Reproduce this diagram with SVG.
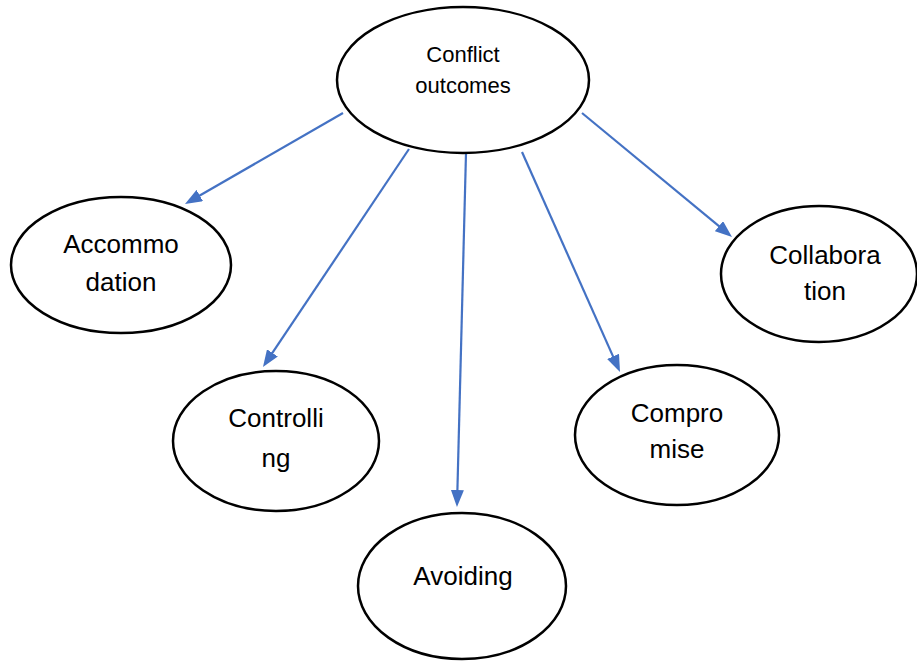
<svg xmlns="http://www.w3.org/2000/svg" width="917" height="661" viewBox="0 0 917 661">
<style>
.node ellipse{fill:#fff;stroke:#000;stroke-width:2.5}
.node text{font-family:"Liberation Sans",Arial,sans-serif;font-size:26px;fill:#000;text-anchor:middle}
#n0 text{font-size:22px}
.edges line{stroke:#4472C4;stroke-width:2.2;fill:none}
</style>
<defs>
<marker id="ah" markerUnits="userSpaceOnUse" markerWidth="17" markerHeight="13" refX="4" refY="6.5" orient="auto">
<path d="M0,0 L17,6.5 L0,13 z" fill="#4472C4"/>
</marker>
</defs>
<rect width="917" height="661" fill="#fff"/>
<g class="edges">
<line x1="343" y1="113" x2="196.3" y2="197.5" marker-end="url(#ah)"/>
<line x1="409" y1="149" x2="270.2" y2="356.2" marker-end="url(#ah)"/>
<line x1="466" y1="153" x2="457.3" y2="494" marker-end="url(#ah)"/>
<line x1="522" y1="152" x2="614.7" y2="360.1" marker-end="url(#ah)"/>
<line x1="582" y1="113" x2="722" y2="228.7" marker-end="url(#ah)"/>
</g>
<g id="n0" class="node">
<ellipse cx="463" cy="80" rx="126" ry="73"/>
<text x="463" y="62">Conflict</text>
<text x="463" y="93">outcomes</text>
</g>
<g id="n1" class="node">
<ellipse cx="121" cy="265" rx="110" ry="68"/>
<text x="121" y="253">Accommo</text>
<text x="121" y="291">dation</text>
</g>
<g id="n2" class="node">
<ellipse cx="276" cy="441" rx="103" ry="70"/>
<text x="276" y="427">Controlli</text>
<text x="276" y="467">ng</text>
</g>
<g id="n3" class="node">
<ellipse cx="462" cy="586" rx="104" ry="73"/>
<text x="463" y="585">Avoiding</text>
</g>
<g id="n4" class="node">
<ellipse cx="677" cy="435" rx="102" ry="70"/>
<text x="677" y="422">Compro</text>
<text x="677" y="458">mise</text>
</g>
<g id="n5" class="node">
<ellipse cx="819" cy="274" rx="98" ry="68"/>
<text x="825" y="264">Collabora</text>
<text x="825" y="300">tion</text>
</g>
</svg>
